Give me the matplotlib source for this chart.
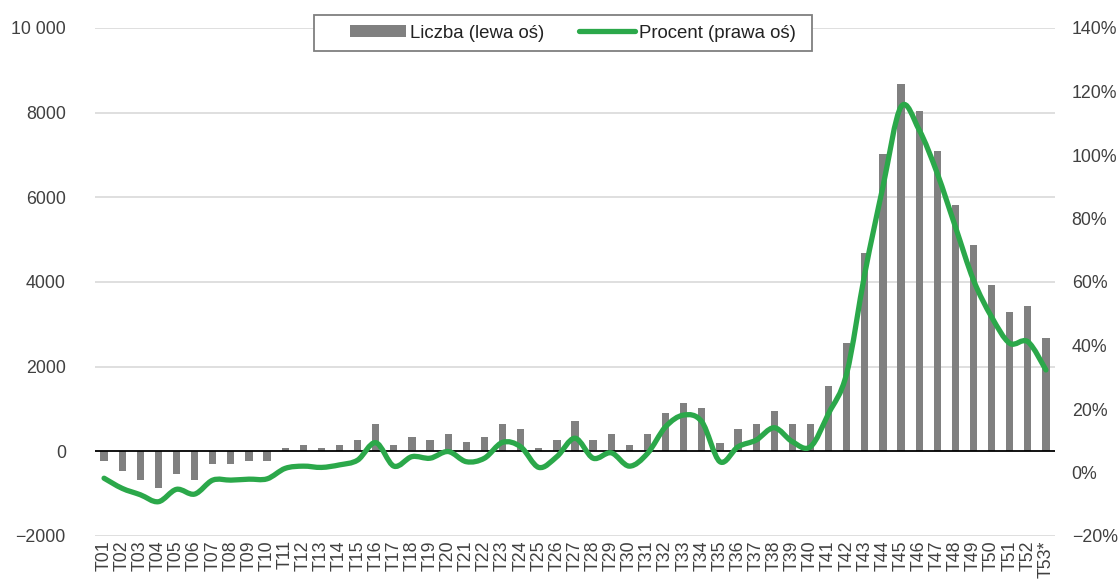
import numpy as np
import matplotlib
matplotlib.use('Agg')
import matplotlib.pyplot as plt
from matplotlib.path import Path
from matplotlib.patches import PathPatch, Rectangle
from matplotlib.lines import Line2D

plt.rcParams['font.family'] = ['Liberation Sans', 'DejaVu Sans']

# Dane
tygodnie = [f'T{i:02d}' for i in range(1, 53)] + ['T53*']
liczba = [-230, -470, -670, -860, -545, -670, -290, -290, -230, -230,
          80, 140, 80, 140, 275, 655,
          140, 330, 275, 400, 210, 330, 655, 520, 80, 275, 710, 275, 400, 140, 400, 905,
          1150, 1025, 205, 520, 645, 960, 645, 645, 1540, 2550,
          4690, 7020, 8670, 8030, 7090, 5820, 4870, 3930, 3300, 3430, 2670]
procent = [-1.8, -5.0, -7.0, -9.2, -5.3, -6.8, -2.4, -2.4, -2.1, -2.0,
           1.3, 2.0, 1.6, 2.4, 3.9, 9.4,
           2.0, 5.0, 4.5, 6.6, 3.4, 4.5, 9.5, 8.1, 1.6, 5.0, 10.8, 4.5, 6.2, 2.0, 6.0, 14.4,
           18.1, 16.0, 3.4, 8.1, 10.2, 14.1, 9.7, 8.1, 18.6, 31.2,
           62.7, 90.0, 115.2, 107.9, 94.2, 77.4, 60.6, 49.0, 40.7, 41.2, 32.3]
lewe_ticki = [-2000, 0, 2000, 4000, 6000, 8000, 10000]
lewe_etykiety = ['\u22122000', '0', '2000', '4000', '6000', '8000', '10 000']
prawe_ticki = [-20, 0, 20, 40, 60, 80, 100, 120, 140]
prawe_etykiety = ['\u221220%', '0%', '20%', '40%', '60%', '80%', '100%', '120%', '140%']

SZARY = '#808080'
ZIELONY = '#2BA84A'
TEKST = '#404040'

fig = plt.figure(figsize=(11.2, 5.82), dpi=100)
ax1 = fig.add_axes([95/1120, 1-536/582, 960/1120, 508/582])
ax2 = ax1.twinx()

x = np.arange(len(tygodnie))

# Slupki
ax1.bar(x, liczba, width=0.4, color=SZARY, zorder=2)
ax1.set_ylim(-2000, 10000)
ax1.set_xlim(-0.5, len(tygodnie) - 0.5)
for t in lewe_ticki:
    if t == 0:
        ax1.axhline(0, color='black', lw=1.3, zorder=3)
    else:
        ax1.axhline(t, color='#d9d9d9', lw=1.2, zorder=1)
ax1.set_yticks(lewe_ticki)
ax1.set_yticklabels(lewe_etykiety)
ax1.set_xticks(x)
ax1.set_xticklabels(tygodnie, rotation=90)

# Wygladzona linia (Catmull-Rom -> Bezier)
y = np.array(procent, dtype=float)
pts = np.column_stack([x, y])
ext = np.vstack([pts[0], pts, pts[-1]])
verts = [tuple(pts[0])]
codes = [Path.MOVETO]
for i in range(len(pts) - 1):
    p0, p1, p2, p3 = ext[i], ext[i+1], ext[i+2], ext[i+3]
    c1 = p1 + (p2 - p0) / 6
    c2 = p2 - (p3 - p1) / 6
    verts += [tuple(c1), tuple(c2), tuple(p2)]
    codes += [Path.CURVE4] * 3
ax2.add_patch(PathPatch(Path(verts, codes), fill=False, edgecolor=ZIELONY,
                        lw=3.8, capstyle='round', joinstyle='round', zorder=4))
ax2.set_ylim(-20, 140)
ax2.set_yticks(prawe_ticki)
ax2.set_yticklabels(prawe_etykiety)

for ax in (ax1, ax2):
    for s in ax.spines.values():
        s.set_visible(False)
    ax.tick_params(length=0, labelsize=12.8, labelcolor=TEKST)
ax1.tick_params(axis='y', pad=21)
ax1.tick_params(axis='x', pad=3)
ax2.tick_params(axis='y', pad=12)

# Legenda
fig.patches.append(Rectangle((314/1120, 1-51/582), 498/1120, 36/582,
                             transform=fig.transFigure, facecolor='white',
                             edgecolor='#7f7f7f', lw=1.3, zorder=4.5))
uchwyty = [Rectangle((0, 0), 1, 1, facecolor=SZARY, edgecolor='none'),
           Line2D([], [], color=ZIELONY, lw=3.8, solid_capstyle='round')]
fig.legend(uchwyty, ['Liczba (lewa oś)', 'Procent (prawa oś)'], loc='center',
           bbox_to_anchor=(573/1120, 1-33/582), ncol=2, frameon=False,
           fontsize=13.4, handlelength=3.0, handleheight=0.6, handletextpad=0.2,
           columnspacing=1.9, labelcolor='#222222')

fig.savefig('out.png', dpi=100)
